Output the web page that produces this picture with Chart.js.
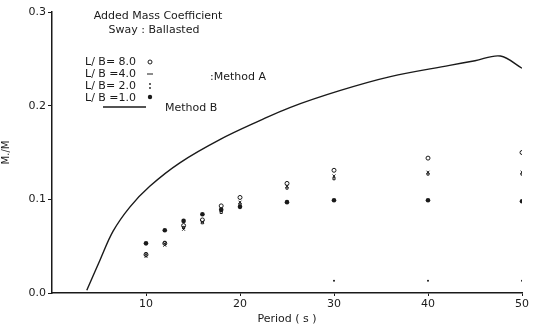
<!DOCTYPE html>
<html lang="en">
<head>
  <meta charset="UTF-8" />
  <title>Added Mass Coefficient - Sway Ballasted</title>
  <script src="https://cdn.jsdelivr.net/npm/chart.js"></script>
  <style>
    body {
      margin: 0;
      background: #fff;
      font-family: "DejaVu Sans", Arial, sans-serif;
    }
    .wrap {
      width: 539px;
      height: 328px;
    }
  </style>
</head>
<body>
  <div class="wrap">
    <canvas id="massChart" width="539" height="328"></canvas>
  </div>

  <script>
    // Method A, test periods (s)
    const periodsA = [10, 12, 14, 16, 18, 20, 25, 30, 40, 50];
    const lb80 = [0.041, 0.053, 0.072, 0.078, 0.093, 0.102, 0.117, 0.131, 0.144, 0.150];
    const lb40 = [0.039, 0.051, 0.068, 0.076, 0.088, 0.097, 0.114, 0.125, 0.129, 0.129];
    const lb20 = [0.042, 0.054, 0.070, 0.075, 0.086, 0.095, 0.112, 0.122, 0.127, 0.127];
    const lb10 = [0.053, 0.067, 0.077, 0.084, 0.089, 0.092, 0.097, 0.099, 0.099, 0.098];

    // small marks near the axis
    const lowPeriods = [30, 40, 50];
    const lowValues = [0.013, 0.013, 0.013];

    // Method B curve
    const periodsB = [3.7, 5.1, 6.5, 8.3, 10.4, 13.6, 17.9, 22.1, 25.3, 30.6, 36, 42.3, 45, 47.7, 50];
    const methodB = [0.003, 0.035, 0.066, 0.092, 0.114, 0.139, 0.164, 0.184, 0.198, 0.216, 0.231, 0.243, 0.248, 0.253, 0.240];

    const xTicks = [10, 20, 30, 40, 50];
    const yTicks = [0.0, 0.1, 0.2, 0.3];

    const ink = "#1a1a1a";
    const toPts = (xs, ys) => xs.map((x, i) => ({ x: x, y: ys[i] }));

    const notes = {
      id: "notes",
      afterDraw(chart) {
        const c = chart.ctx;
        c.save();
        c.fillStyle = ink;
        c.strokeStyle = ink;
        c.font = "11px 'DejaVu Sans', sans-serif";
        c.textBaseline = "middle";
        c.textAlign = "center";
        c.fillText("Added Mass Coefficient", 158, 16);
        c.fillText("Sway : Ballasted", 154, 30);
        c.textAlign = "left";
        c.fillText("L/ B= 8.0", 85, 62);
        c.fillText("L/ B =4.0", 85, 74);
        c.fillText("L/ B= 2.0", 85, 86);
        c.fillText("L/ B =1.0", 85, 98);
        c.fillText(":Method A", 210, 77);
        c.fillText("Method B", 165, 108);
        // legend symbols
        c.lineWidth = 1;
        c.beginPath(); c.arc(150, 62, 2, 0, Math.PI * 2); c.stroke();
        c.beginPath(); c.moveTo(147, 74); c.lineTo(153, 74); c.stroke();
        c.beginPath(); c.arc(150, 84, 0.9, 0, Math.PI * 2); c.fill();
        c.beginPath(); c.arc(150, 88, 0.9, 0, Math.PI * 2); c.fill();
        c.beginPath(); c.arc(150, 97, 2.2, 0, Math.PI * 2); c.fill();
        c.lineWidth = 1.4;
        c.beginPath(); c.moveTo(103, 107); c.lineTo(146, 107); c.stroke();
        c.restore();
      }
    };

    const ctx = document.getElementById("massChart").getContext("2d");
    const chart = new Chart(ctx, {
      type: "scatter",
      data: {
        datasets: [
          {
            label: "Method B",
            type: "line",
            data: toPts(periodsB, methodB),
            borderColor: ink,
            borderWidth: 1.4,
            pointRadius: 0,
            tension: 0.35,
            fill: false
          },
          {
            label: "L/B = 8.0",
            data: toPts(periodsA, lb80),
            pointStyle: "circle",
            pointRadius: 2,
            borderColor: ink,
            borderWidth: 1,
            backgroundColor: "rgba(0,0,0,0)"
          },
          {
            label: "L/B = 4.0",
            data: toPts(periodsA, lb40),
            pointStyle: "crossRot",
            pointRadius: 2,
            borderColor: ink,
            borderWidth: 1
          },
          {
            label: "L/B = 2.0",
            data: toPts(periodsA, lb20),
            pointStyle: "rect",
            pointRadius: 1.5,
            borderColor: ink,
            borderWidth: 1,
            backgroundColor: "rgba(0,0,0,0)"
          },
          {
            label: "L/B = 1.0",
            data: toPts(periodsA, lb10),
            pointStyle: "circle",
            pointRadius: 2.3,
            borderWidth: 0,
            backgroundColor: ink
          },
          {
            label: "low",
            data: toPts(lowPeriods, lowValues),
            pointStyle: "circle",
            pointRadius: 1,
            borderWidth: 0,
            backgroundColor: ink
          }
        ]
      },
      options: {
        responsive: false,
        animation: false,
        layout: { padding: { top: 12, right: 17, left: 0, bottom: 0 } },
        plugins: {
          legend: { display: false },
          tooltip: { enabled: false }
        },
        scales: {
          x: {
            type: "linear",
            min: 0,
            max: 50,
            afterFit: s => { s.height = 35; },
            afterBuildTicks: s => { s.ticks = xTicks.map(v => ({ value: v })); },
            ticks: {
              color: ink,
              font: { size: 11, family: "'DejaVu Sans', sans-serif" },
              padding: 2
            },
            grid: { display: true, drawOnChartArea: false, tickLength: 3, color: ink },
            border: { color: ink, width: 1.5 },
            title: {
              display: true,
              text: "Period ( s )",
              color: ink,
              font: { size: 11, family: "'DejaVu Sans', sans-serif" },
              padding: { top: 0, bottom: 2 }
            }
          },
          y: {
            min: 0,
            max: 0.3,
            afterFit: s => { s.width = 52; },
            afterBuildTicks: s => { s.ticks = yTicks.map(v => ({ value: v })); },
            ticks: {
              color: ink,
              font: { size: 11, family: "'DejaVu Sans', sans-serif" },
              padding: 2,
              callback: v => v.toFixed(1)
            },
            grid: { display: true, drawOnChartArea: false, tickLength: 4, color: ink },
            border: { color: ink, width: 1.5 },
            title: {
              display: true,
              text: "M./M",
              color: ink,
              font: { size: 10, family: "'DejaVu Sans', sans-serif" },
              padding: { top: 0, bottom: 6 }
            }
          }
        }
      },
      plugins: [notes]
    });
  </script>
</body>
</html>
